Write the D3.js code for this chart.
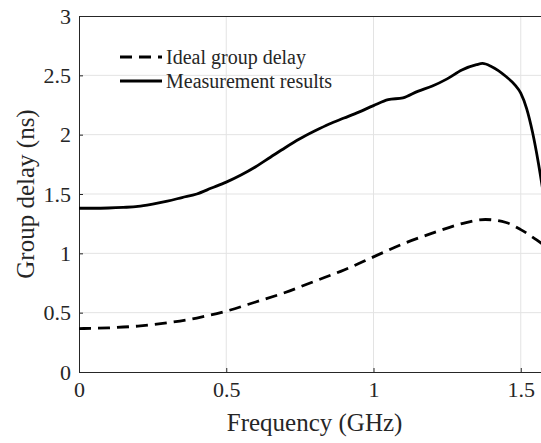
<!DOCTYPE html>
<html>
<head>
<meta charset="utf-8">
<script src="https://cdn.jsdelivr.net/npm/d3@7"></script>
<style>
  html, body { margin: 0; padding: 0; background: #fff; }
  svg { display: block; }
</style>
</head>
<body>
<svg id="chart" width="541" height="443"></svg>
<script>
// Frequency samples (GHz) and group delay values (ns)
const idealFreq  = [0, 0.1, 0.2, 0.3, 0.4, 0.5, 0.6, 0.7, 0.8, 0.9, 1.0, 1.1, 1.2, 1.3, 1.38, 1.45, 1.5, 1.55, 1.6];
const idealDelay = [0.366, 0.372, 0.387, 0.415, 0.455, 0.513, 0.59, 0.67, 0.765, 0.86, 0.97, 1.08, 1.17, 1.25, 1.285, 1.26, 1.2, 1.12, 1.03];

const measFreq  = [0, 0.05, 0.1, 0.15, 0.2, 0.25, 0.3, 0.35, 0.4, 0.45, 0.5, 0.55, 0.6, 0.65, 0.7, 0.75, 0.8, 0.85, 0.9, 0.95, 1.0, 1.05, 1.1, 1.15, 1.2, 1.25, 1.3, 1.35, 1.37, 1.4, 1.45, 1.48, 1.5, 1.52, 1.54, 1.56, 1.58];
const measDelay = [1.38, 1.38, 1.382, 1.387, 1.395, 1.415, 1.44, 1.47, 1.5, 1.55, 1.6, 1.66, 1.73, 1.81, 1.89, 1.965, 2.03, 2.09, 2.14, 2.19, 2.245, 2.295, 2.31, 2.365, 2.41, 2.47, 2.545, 2.59, 2.6, 2.575, 2.49, 2.42, 2.35, 2.22, 2.02, 1.76, 1.45];

const xTicks = [0, 0.5, 1, 1.5];
const xTickLabels = ["0", "0.5", "1", "1.5"];
const yTicks = [0, 0.5, 1, 1.5, 2, 2.5, 3];
const yTickLabels = ["0", "0.5", "1", "1.5", "2", "2.5", "3"];

const legendLabels = ["Ideal group delay", "Measurement results"];

const W = 541, H = 443;
const padLeft = 79, padTop = 16, plotBottom = 372;
const SERIF = "'Liberation Serif', 'Times New Roman', serif";
const INK = "#262626";

const svg = d3.select("#chart");

const x = d3.scaleLinear().domain([0, 1.6]).range([padLeft, padLeft + 1.6 * 294.5]);
const y = d3.scaleLinear().domain([0, 3]).range([plotBottom, padTop]);

svg.append("defs").append("clipPath").attr("id", "plotClip")
  .append("rect").attr("x", padLeft).attr("y", padTop).attr("width", W - padLeft).attr("height", plotBottom - padTop);

// grid
const grid = svg.append("g");
grid.selectAll("line.gx").data(xTicks.slice(1)).join("line")
  .attr("x1", d => x(d)).attr("x2", d => x(d))
  .attr("y1", padTop).attr("y2", plotBottom)
  .attr("stroke", "#e3e3e3").attr("stroke-width", 1);
grid.selectAll("line.gy").data(yTicks.slice(1, -1)).join("line")
  .attr("x1", padLeft).attr("x2", W)
  .attr("y1", d => y(d)).attr("y2", d => y(d))
  .attr("stroke", "#e3e3e3").attr("stroke-width", 1);

// axes
const xAxis = d3.axisBottom(x).tickValues(xTicks).tickFormat((d, i) => xTickLabels[i]).tickSizeInner(-4).tickSizeOuter(0).tickPadding(9);
const yAxis = d3.axisLeft(y).tickValues(yTicks).tickFormat((d, i) => yTickLabels[i]).tickSizeInner(-4).tickSizeOuter(0).tickPadding(8);

const gx = svg.append("g").attr("transform", `translate(0,${plotBottom})`).call(xAxis);
const gy = svg.append("g").attr("transform", `translate(${padLeft},0)`).call(yAxis);
[gx, gy].forEach(g => {
  g.attr("font-family", SERIF).attr("font-size", 22);
  g.select(".domain").attr("stroke", INK).attr("stroke-width", 1);
  g.selectAll(".tick line").attr("stroke", INK);
  g.selectAll(".tick text")
    .style("font-family", SERIF).style("font-size", "22px").style("fill", INK);
});
gx.select(".domain").attr("d", `M${padLeft},0.5H${W}`);
gy.selectAll(".tick text").attr("dy", "0.32em");

// top border
svg.append("line").attr("x1", padLeft).attr("x2", W).attr("y1", padTop + 0.5).attr("y2", padTop + 0.5)
  .attr("stroke", INK).attr("stroke-width", 1);

// curves
const plot = svg.append("g").attr("clip-path", "url(#plotClip)");
const line = d3.line().x(d => x(d[0])).y(d => y(d[1])).curve(d3.curveMonotoneX);

plot.append("path")
  .datum(idealFreq.map((f, i) => [f, idealDelay[i]]))
  .attr("d", line).attr("fill", "none").attr("stroke", "#000")
  .attr("stroke-width", 2.8).attr("stroke-dasharray", "12,7");

plot.append("path")
  .datum(measFreq.map((f, i) => [f, measDelay[i]]))
  .attr("d", line).attr("fill", "none").attr("stroke", "#000")
  .attr("stroke-width", 2.8).attr("stroke-linejoin", "round");

// legend
const leg = svg.append("g");
const legRows = [{ y: 57, dash: "12,7" }, { y: 81, dash: null }];
legRows.forEach((r, i) => {
  leg.append("line").attr("x1", 120).attr("x2", 162).attr("y1", r.y).attr("y2", r.y)
    .attr("stroke", "#000").attr("stroke-width", 2.8)
    .attr("stroke-dasharray", r.dash);
  leg.append("text").attr("x", 166).attr("y", r.y).attr("dy", "0.34em")
    .style("font-family", SERIF).style("font-size", "20px").style("fill", INK)
    .text(legendLabels[i]);
});

// axis labels
svg.append("text").attr("x", x(0.8)).attr("y", 431)
  .attr("text-anchor", "middle")
  .style("font-family", SERIF).style("font-size", "25px").style("fill", INK)
  .text("Frequency (GHz)");
svg.append("text").attr("transform", `translate(34,${(padTop + plotBottom) / 2}) rotate(-90)`)
  .attr("text-anchor", "middle")
  .style("font-family", SERIF).style("font-size", "25px").style("fill", INK)
  .text("Group delay (ns)");
</script>
</body>
</html>
